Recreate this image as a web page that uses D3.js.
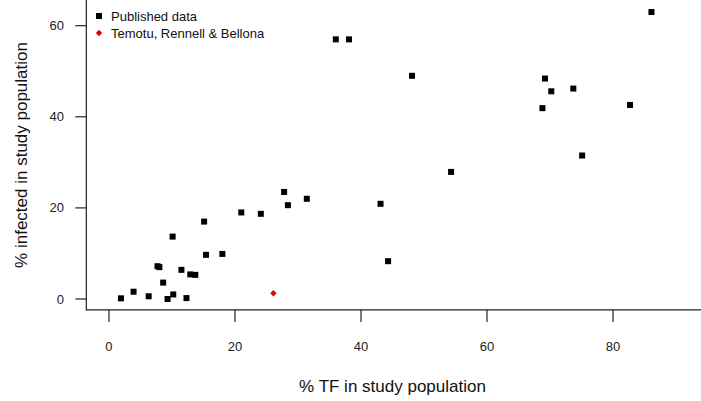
<!DOCTYPE html>
<html>
<head>
<meta charset="utf-8">
<script src="https://cdn.jsdelivr.net/npm/d3@7"></script>
<style>
  html, body { margin: 0; padding: 0; background: #fff; }
  svg { display: block; font-family: "Liberation Sans", Arial, sans-serif; }
</style>
</head>
<body>
<svg id="chart" width="701" height="401"></svg>
<script>
// Published data: % TF (x) and % infected (y)
const publishedTF = [1.9, 3.9, 6.3, 7.7, 8.0, 8.6, 9.3, 10.1, 10.2, 11.5, 12.3, 12.9, 13.7,
  15.4, 18.0, 15.1, 21.0, 24.1, 27.8, 28.4, 31.4, 43.1, 44.3, 54.3, 36.0, 38.1, 48.1,
  69.2, 70.2, 73.7, 68.8, 82.7, 75.1, 86.1];
const publishedInfected = [0.15, 1.6, 0.6, 7.2, 7.0, 3.6, 0.0, 13.7, 1.0, 6.4, 0.2, 5.4, 5.3,
  9.7, 9.9, 17.0, 19.0, 18.7, 23.5, 20.6, 22.0, 20.9, 8.3, 27.9, 57.0, 57.0, 49.0,
  48.4, 45.6, 46.2, 41.9, 42.6, 31.5, 63.0];
// Temotu, Rennell & Bellona
const temotuTF = [26.1];
const temotuInfected = [1.25];

const xTicks = [0, 20, 40, 60, 80];
const yTicks = [0, 20, 40, 60];
const legendLabels = ["Published data", "Temotu, Rennell & Bellona"];
const xTitle = "% TF in study population";
const yTitle = "% infected in study population";

const svg = d3.select("#chart");
const x = d3.scaleLinear().domain([-3.6, 93.6]).range([86.3, 698.7]);
const y = d3.scaleLinear().domain([0, 60]).range([299, 25.7]);

// L-shaped box
svg.append("path")
  .attr("d", `M${x(-3.6)},0 V${y(-2.4)} H701`)
  .attr("fill", "none").attr("stroke", "#222").attr("stroke-width", 1.2);

// X axis ticks + labels
const xAxis = svg.append("g");
xAxis.selectAll("line").data(xTicks).join("line")
  .attr("x1", d => x(d)).attr("x2", d => x(d))
  .attr("y1", y(-2.4)).attr("y2", y(-2.4) + 12)
  .attr("stroke", "#222").attr("stroke-width", 1.2);
xAxis.selectAll("text").data(xTicks).join("text")
  .attr("x", d => x(d)).attr("y", 351)
  .attr("text-anchor", "middle").attr("font-size", 13).attr("fill", "#222")
  .text(d => d);

// Y axis ticks + labels
const yAxis = svg.append("g");
yAxis.selectAll("line").data(yTicks).join("line")
  .attr("x1", x(-3.6) - 11).attr("x2", x(-3.6))
  .attr("y1", d => y(d)).attr("y2", d => y(d))
  .attr("stroke", "#222").attr("stroke-width", 1.2);
yAxis.selectAll("text").data(yTicks).join("text")
  .attr("x", 64).attr("y", d => y(d)).attr("dy", "0.35em")
  .attr("text-anchor", "end").attr("font-size", 13).attr("fill", "#222")
  .text(d => d);

// Axis titles
svg.append("text").attr("x", (x(-3.6) + x(93.6)) / 2).attr("y", 392)
  .attr("text-anchor", "middle").attr("font-size", 17).attr("fill", "#111")
  .text(xTitle);
svg.append("text")
  .attr("transform", `translate(27,${(y(-2.4)) / 2}) rotate(-90)`)
  .attr("text-anchor", "middle").attr("font-size", 17).attr("fill", "#111")
  .text(yTitle);

// Points
const sq = 6;
const pub = publishedTF.map((v, i) => ({ x: v, y: publishedInfected[i] }));
svg.append("g").selectAll("rect").data(pub).join("rect")
  .attr("x", d => x(d.x) - sq / 2).attr("y", d => y(d.y) - sq / 2)
  .attr("width", sq).attr("height", sq).attr("fill", "#000");

const diamond = d3.symbol().type(d3.symbolDiamond2).size(26);
const tem = temotuTF.map((v, i) => ({ x: v, y: temotuInfected[i] }));
svg.append("g").selectAll("path").data(tem).join("path")
  .attr("transform", d => `translate(${x(d.x)},${y(d.y)})`)
  .attr("d", diamond).attr("fill", "#e00000");

// Legend
const lg = svg.append("g");
lg.append("rect").attr("x", 99 - sq / 2).attr("y", 16 - sq / 2)
  .attr("width", sq).attr("height", sq).attr("fill", "#000");
lg.append("path").attr("transform", "translate(99,33)").attr("d", diamond).attr("fill", "#e00000");
lg.selectAll("text").data(legendLabels).join("text")
  .attr("x", 111).attr("y", (d, i) => 16 + i * 17).attr("dy", "0.35em")
  .attr("font-size", 13).attr("fill", "#111")
  .text(d => d);
</script>
</body>
</html>
